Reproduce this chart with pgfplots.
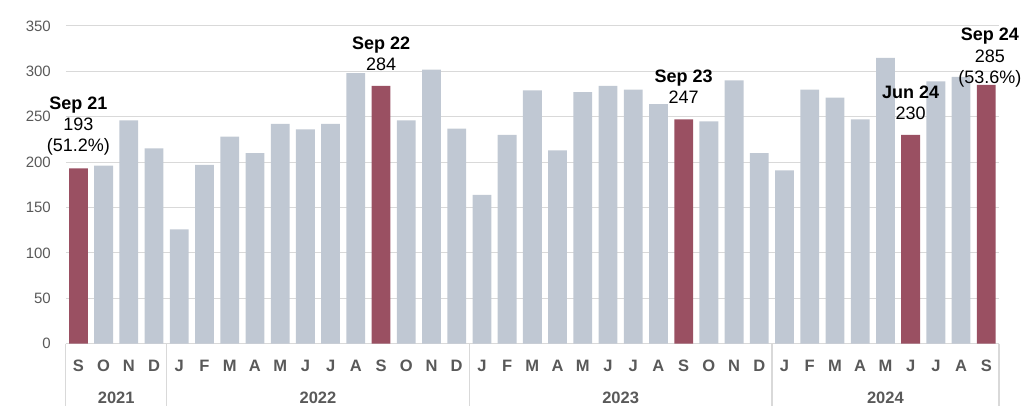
\documentclass[border=0pt]{standalone}
\usepackage{fontspec}
\setmainfont{Liberation Sans}
\usepackage{pgfplots}
\pgfplotsset{compat=1.18}
\definecolor{barGrey}{RGB}{192,200,211}
\definecolor{barRed}{RGB}{154,80,98}
\definecolor{gridGrey}{RGB}{217,217,217}
\definecolor{tickGrey}{RGB}{89,89,89}
\begin{document}
\begin{tikzpicture}
\useasboundingbox (0,0) rectangle (1034pt,406pt);
\begin{axis}[
  at={(65.8pt,62.4pt)}, anchor=south west,
  scale only axis, width=933.1pt, height=317.6pt,
  xmin=-0.5, xmax=36.5, ymin=0, ymax=350,
  clip=false,
  axis line style={draw=none},
  ymajorgrids, grid style={gridGrey, line width=1pt},
  ytick={0,50,...,350},
  major tick length=0pt,
  /pgf/number format/assume math mode=true,
  yticklabel style={font=\fontsize{15}{18}\selectfont, text=tickGrey, anchor=east, inner sep=0pt, xshift=-14.8pt},
  xtick={0,...,36},
  xticklabels={S,O,N,D,J,F,M,A,M,J,J,A,S,O,N,D,J,F,M,A,M,J,J,A,S,O,N,D,J,F,M,A,M,J,J,A,S},
  xticklabel style={font=\bfseries\fontsize{16.5}{19}\selectfont, text=tickGrey, anchor=base, inner sep=0pt, yshift=-27.8pt},
  ybar, bar width=18.8pt, bar shift=0pt,
]
\addplot[fill=barGrey, draw=none] coordinates {
  (1,196) (2,246) (3,215) (4,126) (5,197) (6,228) (7,210) (8,242) (9,236) (10,242) (11,298)
  (13,246) (14,302) (15,237) (16,164) (17,230) (18,279) (19,213) (20,277) (21,284) (22,280) (23,264)
  (25,245) (26,290) (27,210) (28,191) (29,280) (30,271) (31,247) (32,315)
  (34,289) (35,294)
};
\addplot[fill=barRed, draw=none] coordinates {
  (0,193) (12,284) (24,247) (33,230) (36,285)
};
% separators
\draw[gridGrey, line width=1.3pt] (axis cs:-0.5,0) -- ++(0pt,-62.4pt);
\draw[gridGrey, line width=1.3pt] (axis cs:3.5,0) -- ++(0pt,-62.4pt);
\draw[gridGrey, line width=1.3pt] (axis cs:15.5,0) -- ++(0pt,-62.4pt);
\draw[gridGrey, line width=1.3pt] (axis cs:27.5,0) -- ++(0pt,-62.4pt);
\draw[gridGrey, line width=1.3pt] (axis cs:36.5,0) -- ++(0pt,-62.4pt);
% year labels
\tikzset{yr/.style={font=\bfseries\fontsize{16.5}{19}\selectfont, text=tickGrey, anchor=base, inner sep=0pt, yshift=-60pt}}
\node[yr] at (axis cs:1.5,0) {2021};
\node[yr] at (axis cs:9.5,0) {2022};
\node[yr] at (axis cs:21.5,0) {2023};
\node[yr] at (axis cs:32,0) {2024};
% data labels
\tikzset{lt/.style={font=\bfseries\fontsize{18}{21}\selectfont, anchor=base, inner sep=0pt},
         lv/.style={font=\fontsize{18}{21}\selectfont, anchor=base, inner sep=0pt}}
\node[lt, yshift=59.1pt] at (axis cs:0,193) {Sep 21};
\node[lv, yshift=37.8pt] at (axis cs:0,193) {193};
\node[lv, yshift=16.5pt] at (axis cs:0,193) {(51.2\%)};
\node[lt, yshift=36.5pt] at (axis cs:12,284) {Sep 22};
\node[lv, yshift=15.5pt] at (axis cs:12,284) {284};
\node[lt, yshift=36.5pt] at (axis cs:24,247) {Sep 23};
\node[lv, yshift=15.5pt] at (axis cs:24,247) {247};
\node[lt, yshift=36.5pt] at (axis cs:33,230) {Jun 24};
\node[lv, yshift=15pt] at (axis cs:33,230) {230};
\node[lt, yshift=44pt, xshift=3.5pt] at (axis cs:36,285) {Sep 24};
\node[lv, yshift=22.5pt, xshift=3.5pt] at (axis cs:36,285) {285};
\node[lv, yshift=1.7pt, xshift=3.5pt] at (axis cs:36,285) {(53.6\%)};
\end{axis}
\end{tikzpicture}
\end{document}
